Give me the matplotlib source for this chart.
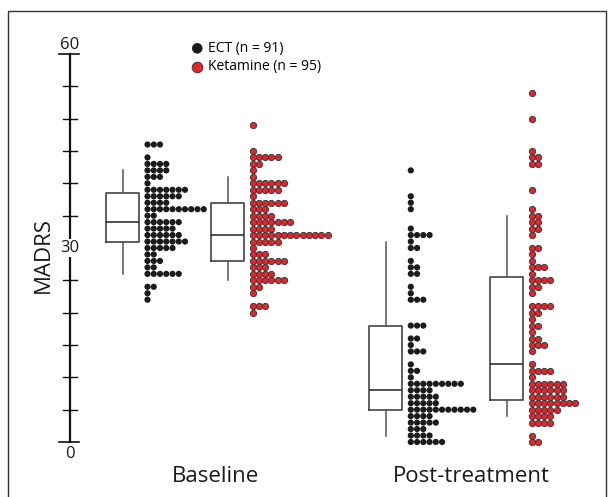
import numpy as np
import matplotlib.pyplot as plt
from matplotlib.patches import Rectangle

plt.rcParams['font.family'] = ['Open Sans', 'DejaVu Sans']

# MADRS scores (one row of dots per score) and how many patients sit on each row
ect_base_scores = [46, 44, 43, 42, 41, 40, 39, 38, 37, 36, 35, 34, 33, 32, 31, 30, 29, 28, 27, 26, 24, 23, 22]
ect_base_counts = [3, 1, 4, 4, 3, 1, 7, 6, 4, 10, 2, 6, 5, 6, 7, 5, 2, 3, 2, 6, 2, 1, 1]

ket_base_scores = [49, 45, 44, 43, 42, 41, 40, 39, 38, 37, 36, 35, 34, 33, 32, 31, 30, 29, 28, 27, 26, 25, 24, 23, 21, 20]
ket_base_counts = [1, 1, 5, 2, 1, 1, 6, 5, 1, 6, 3, 4, 7, 4, 13, 5, 1, 3, 6, 3, 4, 6, 2, 1, 3, 1]

ect_post_scores = [42, 38, 37, 36, 33, 32, 31, 30, 28, 27, 26, 24, 23, 22, 18, 16, 15, 14, 12, 11, 10,
                   9, 8, 7, 6, 5, 4, 3, 2, 1, 0]
ect_post_counts = [1, 1, 1, 1, 1, 4, 1, 2, 1, 2, 2, 1, 1, 3, 3, 2, 1, 3, 1, 2, 1,
                   9, 4, 5, 5, 11, 4, 5, 3, 4, 6]

ket_post_scores = [54, 50, 45, 44, 43, 39, 36, 35, 34, 33, 32, 30, 29, 28, 27, 26, 25, 24, 23, 21, 20, 19, 18,
                   17, 16, 15, 14, 12, 11, 10, 9, 8, 7, 6, 5, 4, 3, 1, 0]
ket_post_counts = [1, 1, 1, 2, 2, 1, 1, 2, 2, 2, 1, 2, 1, 1, 3, 1, 4, 2, 1, 4, 2, 1, 2,
                   1, 2, 3, 1, 1, 4, 1, 6, 6, 6, 8, 5, 4, 4, 1, 2]

groups = ['Baseline', 'Post-treatment']
legend_labels = ['ECT (n = 91)', 'Ketamine (n = 95)']
y_ticks = np.arange(0, 61, 5)

W, H = 614, 497
fig = plt.figure(figsize=(W / 100, H / 100), dpi=100, facecolor='white')
ax = fig.add_axes([0, 55 / H, 1, 388 / H])
ax.set_xlim(0, W)
ax.set_ylim(0, 60)
ax.axis('off')

# outer frame
fig.patches.append(Rectangle((8 / W, -0.02), 598 / W, 1.02 - 11 / H, transform=fig.transFigure,
                             fill=False, edgecolor='#333333', lw=1.0))

black = '#1b1b1b'
red = '#e4232a'
dx = 6.25

series = [
    (ect_base_scores, ect_base_counts, 147.5, 122.7, black, 'none'),
    (ket_base_scores, ket_base_counts, 252.5, 227.5, red, '#3a3a3a'),
    (ect_post_scores, ect_post_counts, 410.8, 385.7, black, 'none'),
    (ket_post_scores, ket_post_counts, 531.7, 506.7, red, '#3a3a3a'),
]

handles = []
box_data, box_pos = [], []
for k, (scores, counts, x0, bx, col, ec) in enumerate(series):
    xs, ys = [], []
    for s, c in zip(scores, counts):
        for i in range(c):
            xs.append(x0 + i * dx)
            ys.append(s)
    h = ax.scatter(xs, ys, s=20, color=col, edgecolors=ec, linewidths=0.7, zorder=3, clip_on=False,
                   label=legend_labels[k % 2])
    if k < 2:
        handles.append(h)
    box_data.append(np.repeat(scores, counts))
    box_pos.append(bx)

ax.boxplot(box_data, positions=box_pos, widths=33, whis=(10, 90), showfliers=False, showcaps=False,
           manage_ticks=False,
           boxprops=dict(color='#444444', lw=1.2),
           whiskerprops=dict(color='#555555', lw=1.1),
           medianprops=dict(color='#222222', lw=1.1))

# hand drawn style y axis
ax.plot([70, 70], [0, 60], color='#111111', lw=1.6, clip_on=False, zorder=2)
for t in y_ticks:
    if t in (0, 60):
        ax.plot([59, 79], [t, t], color='#111111', lw=1.2, clip_on=False)
    else:
        ax.plot([63, 77], [t, t], color='#111111', lw=1.0, clip_on=False)
ax.text(70, 60.2, '60', ha='center', va='bottom', fontsize=12, color='#1a1a1a')
ax.text(70, -0.6, '0', ha='center', va='top', fontsize=12, color='#1a1a1a')
ax.text(69.5, 30, '30', ha='center', va='center', fontsize=12, color='#1a1a1a', zorder=4,
        bbox=dict(facecolor='white', edgecolor='none', pad=1))
ax.text(43, 28.9, 'MADRS', rotation=90, ha='center', va='center', fontsize=16, color='#1a1a1a')

ax.text(216, -5.4, groups[0], ha='center', va='center', fontsize=16, color='#1a1a1a')
ax.text(471, -5.4, groups[1], ha='center', va='center', fontsize=16, color='#1a1a1a')

ax.legend(handles=handles, loc='upper left', bbox_to_anchor=(182 / W, 1 - 34 / H),
          bbox_transform=fig.transFigure, frameon=False, fontsize=10, markerscale=1.7,
          handletextpad=0.2, labelspacing=0.25, borderpad=0, handlelength=1.2)

fig.savefig('out.png', dpi=100, facecolor='white')
